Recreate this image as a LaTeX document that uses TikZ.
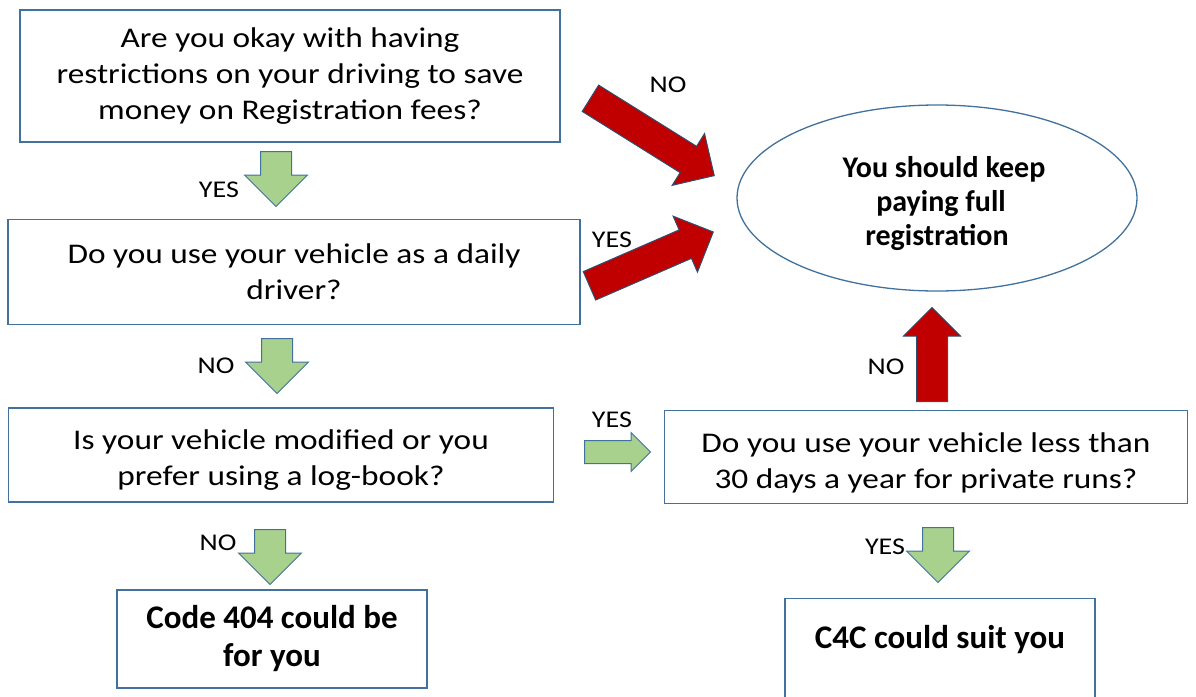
\documentclass[tikz,border=0pt]{standalone}
\usepackage{fontspec}
\setmainfont{Carlito}[FakeStretch=1.17]
\newfontfamily\plainbold{Carlito}
\usepackage{xcolor}
\usepackage{tikz}
\usetikzlibrary{shapes.arrows,shapes.geometric}

\definecolor{edgeblue}{HTML}{41719C}
\definecolor{leafgreen}{HTML}{A9D18E}
\definecolor{stopred}{HTML}{C00000}

\tikzset{
  qbox/.style={draw=edgeblue, line width=1.3pt, inner sep=0pt, align=center,
    font=\fontsize{28.5}{36}\selectfont},
  endbox/.style={qbox, font=\fontsize{33}{38}\selectfont\plainbold\bfseries},
  tag/.style={font=\fontsize{24}{26}\selectfont, inner sep=0pt},
  goarrow/.style={single arrow, draw=edgeblue, fill=leafgreen, line width=1pt, anchor=tail,
    inner sep=0pt, inner ysep=15pt, single arrow head extend=16pt, minimum height=55pt},
  stoparrow/.style={single arrow, draw=edgeblue!70!black, fill=stopred, line width=1pt, anchor=tail,
    inner sep=0pt, inner ysep=15pt, single arrow head extend=15pt}
}

\begin{document}
\begin{tikzpicture}[x=1pt,y=-1pt]
	\useasboundingbox (0,0) rectangle (1196,696);
	% question boxes
	\node[qbox, minimum width=540pt, minimum height=132pt] (q1) at (290,76)
		{Are you okay with having\\restrictions on your driving to save\\money on Registration fees?};
	\node[qbox, minimum width=572pt, minimum height=105pt] (q2) at (294,272)
		{Do you use your vehicle as a daily\\driver?};
	\node[qbox, minimum width=545pt, minimum height=94pt] (q3) at (281,455)
		{\rule{0pt}{29pt}Is your vehicle modified or you\\prefer using a log-book?};
	\node[qbox, minimum width=523pt, minimum height=93pt] (q4) at (926,457)
		{\rule{0pt}{31pt}Do you use your vehicle less than\\30 days a year for private runs?};
	% outcomes
	\node[endbox, minimum width=310pt, minimum height=98pt] (code) at (272,639)
		{Code 404 could be\\for you};
	\node[endbox, anchor=north, minimum width=310pt, text height=50pt, text depth=60pt] (c4c) at (940,598)
		{C4C could suit you};
	\node[ellipse, draw=edgeblue, line width=1.3pt, inner sep=0pt, minimum width=400pt,
		minimum height=186pt, align=center, font=\fontsize{30}{34}\selectfont\plainbold\bfseries] (full) at (937,198)
		{\rule{0pt}{33pt}\hspace{14pt}You should keep\\\hspace{8pt}paying full\\registration};
	% green arrows
	\node[goarrow, rotate=-90] (a1) at (276,151) {};
	\node[goarrow, rotate=-90] (a2) at (277,338) {};
	\node[goarrow, rotate=-90] (a3) at (270,529) {};
	\node[goarrow, rotate=-90] (a4) at (938,527) {};
	\node[goarrow, inner ysep=11pt, single arrow head extend=8pt, minimum height=66pt] (a5) at (584,452) {};
	% red arrows
	\node[stoparrow, rotate=-32, minimum height=146pt] (r1) at (590,98) {};
	\node[stoparrow, rotate=23.5, minimum height=135pt] (r2) at (589,286) {};
	\node[stoparrow, rotate=90, minimum height=94pt, single arrow head extend=13pt] (r3) at (932,402) {};
	% answers
	\node[tag] (t1) at (219,190) {YES};
	\node[tag] (t2) at (216,366) {NO};
	\node[tag] (t3) at (218,543) {NO};
	\node[tag] (t4) at (885,547) {YES};
	\node[tag] (t5) at (612,420) {YES};
	\node[tag] (t6) at (886,367) {NO};
	\node[tag] (t7) at (668,85) {NO};
	\node[tag] (t8) at (612,240) {YES};
\end{tikzpicture}
\end{document}
